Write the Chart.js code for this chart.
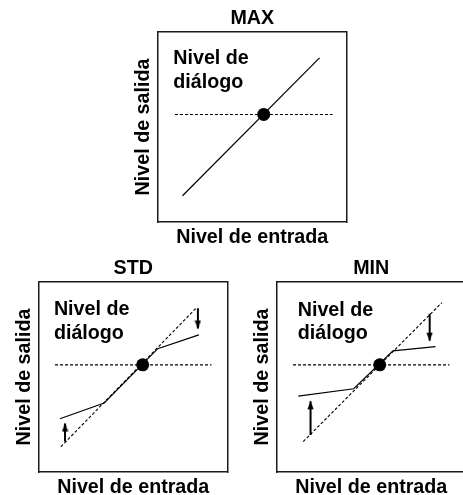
<!DOCTYPE html>
<html>
<head>
<meta charset="utf-8">
<script src="https://cdn.jsdelivr.net/npm/chart.js@4"></script>
<style>
html,body{margin:0;padding:0;background:#fff;width:463px;height:495px;overflow:hidden;position:relative}
canvas{position:absolute;display:block}
</style>
</head>
<body>
<canvas id="cMax" width="222" height="250" style="left:131px;top:0px;width:222px;height:250px"></canvas>
<canvas id="cStd" width="222" height="250" style="left:12px;top:250px;width:222px;height:250px"></canvas>
<canvas id="cMin" width="222" height="250" style="left:250px;top:250px;width:222px;height:250px"></canvas>
<script>
// ---------- data (axis units 0..100 for input and output level) ----------
const axisRange = [0, 100];
const panelTitles = ['MAX', 'STD', 'MIN'];
const xAxisLabel = 'Nivel de entrada';
const yAxisLabel = 'Nivel de salida';
const noteLines = ['Nivel de', 'diálogo'];

// MAX
const maxCurveX = [13.0, 85.7];
const maxCurveY = [13.8, 86.4];
const maxDotX = [56.1];
const maxDotY = [56.6];
const maxLevelX = [9.0, 92.6];
const maxLevelY = [56.6, 56.6];

// STD
const stdCurveX = [11.1, 34.6, 63.0, 84.8];
const stdCurveY = [28.0, 36.3, 64.9, 72.2];
const stdDiagX = [11.6, 83.1];
const stdDiagY = [13.3, 86.0];
const stdDotX = [55.0];
const stdDotY = [56.4];
const stdLevelX = [8.5, 91.5];
const stdLevelY = [56.4, 56.4];
const stdArrowUpX = [13.8, 13.8];
const stdArrowUpY = [16.0, 25.5];
const stdArrowDownX = [84.3, 84.3];
const stdArrowDownY = [86.2, 75.5];

// MIN
const minCurveX = [11.3, 40.7, 61.5, 84.1];
const minCurveY = [39.9, 43.8, 63.8, 66.0];
const minDiagX = [13.9, 87.5];
const minDiagY = [16.0, 89.2];
const minDotX = [54.5];
const minDotY = [56.4];
const minLevelX = [8.5, 91.5];
const minLevelY = [56.4, 56.4];
const minArrowUpX = [17.8, 17.8];
const minArrowUpY = [19.5, 37.2];
const minArrowDownX = [81.0, 81.0];
const minArrowDownY = [83.3, 69.1];

// ---------- styling ----------
const FAMILY = "'Liberation Sans', Arial, Helvetica, sans-serif";
const FSIZE = 19.7;
const LINE_H = 23.4;
const fontBold = {family: FAMILY, size: FSIZE, weight: 'bold', lineHeight: 23.4 / FSIZE};

function pts(xs, ys) { return xs.map((x, i) => ({x: x, y: ys[i]})); }

// arrow head image: tip at the image centre, body below (pointing up)
function makeHead() {
  const c = document.createElement('canvas');
  c.width = 7; c.height = 18;
  const g = c.getContext('2d');
  g.fillStyle = '#000';
  g.beginPath();
  g.moveTo(3.5, 8.5);
  g.lineTo(6.6, 17);
  g.lineTo(0.4, 17);
  g.closePath();
  g.fill();
  return c;
}
const headImg = makeHead();

const notePlugin = {
  id: 'note',
  afterDatasetsDraw(chart, args, opts) {
    const {ctx} = chart;
    const xs = chart.scales.x, ys = chart.scales.y;
    const px = xs.getPixelForValue(opts.x);
    const py = ys.getPixelForValue(opts.y);
    ctx.save();
    ctx.font = 'bold ' + FSIZE + 'px ' + FAMILY;
    ctx.fillStyle = '#000';
    ctx.textBaseline = 'alphabetic';
    ctx.textAlign = 'left';
    noteLines.forEach((t, i) => ctx.fillText(t, px, py + i * LINE_H));
    ctx.restore();
  }
};

function dotDs(xs, ys) {
  return {data: pts(xs, ys), pointRadius: 6.5, pointBackgroundColor: '#000', pointBorderWidth: 0, showLine: false};
}
function solidDs(xs, ys) {
  return {data: pts(xs, ys), showLine: true, borderColor: '#000', borderWidth: 1.2, pointRadius: 0, tension: 0, fill: false};
}
function dashDs(xs, ys) {
  return {data: pts(xs, ys), showLine: true, borderColor: '#000', borderWidth: 1.1, borderDash: [3, 2], pointRadius: 0, tension: 0, fill: false};
}
function arrowDs(xs, ys, down) {
  return {data: pts(xs, ys), showLine: true, borderColor: '#000', borderWidth: 2, borderCapStyle: 'butt',
    pointRadius: [0, 4], pointHoverRadius: 0, pointStyle: headImg, pointRotation: down ? 180 : 0,
    pointBackgroundColor: '#000', pointBorderWidth: 0, tension: 0, fill: false};
}

function hiddenAxis(pos) {
  return {type: 'linear', position: pos, min: axisRange[0], max: axisRange[1], display: true,
    ticks: {display: false}, grid: {display: false, drawTicks: false},
    border: {display: true, color: '#1a1a1a', width: 1.5}};
}

function makePanel(id, title, datasets, note) {
  const x = hiddenAxis('bottom');
  x.title = {display: true, text: xAxisLabel, color: '#000', font: fontBold, padding: {top: 3.8, bottom: 0.8}};
  const y = hiddenAxis('left');
  y.title = {display: true, text: yAxisLabel, color: '#000', font: fontBold, padding: {top: 0.54, bottom: 3.06}};
  new Chart(document.getElementById(id), {
    type: 'scatter',
    data: {datasets: datasets},
    options: {
      responsive: false,
      animation: false,
      events: [],
      layout: {padding: {left: 0, right: 2, top: 0, bottom: 0}},
      plugins: {
        legend: {display: false},
        tooltip: {enabled: false},
        title: {display: true, text: title, color: '#000', font: fontBold, fullSize: false, padding: {top: 6.8, bottom: 1.8}},
        note: note
      },
      scales: {x: x, y: y, x2: hiddenAxis('top'), y2: hiddenAxis('right')}
    },
    plugins: [notePlugin]
  });
}

makePanel('cMax', panelTitles[0], [
  dotDs(maxDotX, maxDotY),
  solidDs(maxCurveX, maxCurveY),
  dashDs(maxLevelX, maxLevelY)
], {x: 8.1, y: 83.1});

makePanel('cStd', panelTitles[1], [
  dotDs(stdDotX, stdDotY),
  arrowDs(stdArrowUpX, stdArrowUpY, false),
  arrowDs(stdArrowDownX, stdArrowDownY, true),
  solidDs(stdCurveX, stdCurveY),
  dashDs(stdDiagX, stdDiagY),
  dashDs(stdLevelX, stdLevelY)
], {x: 7.9, y: 82.4});

makePanel('cMin', panelTitles[2], [
  dotDs(minDotX, minDotY),
  arrowDs(minArrowUpX, minArrowUpY, false),
  arrowDs(minArrowDownX, minArrowDownY, true),
  solidDs(minCurveX, minCurveY),
  dashDs(minDiagX, minDiagY),
  dashDs(minLevelX, minLevelY)
], {x: 11.0, y: 82.3});
</script>
</body>
</html>
